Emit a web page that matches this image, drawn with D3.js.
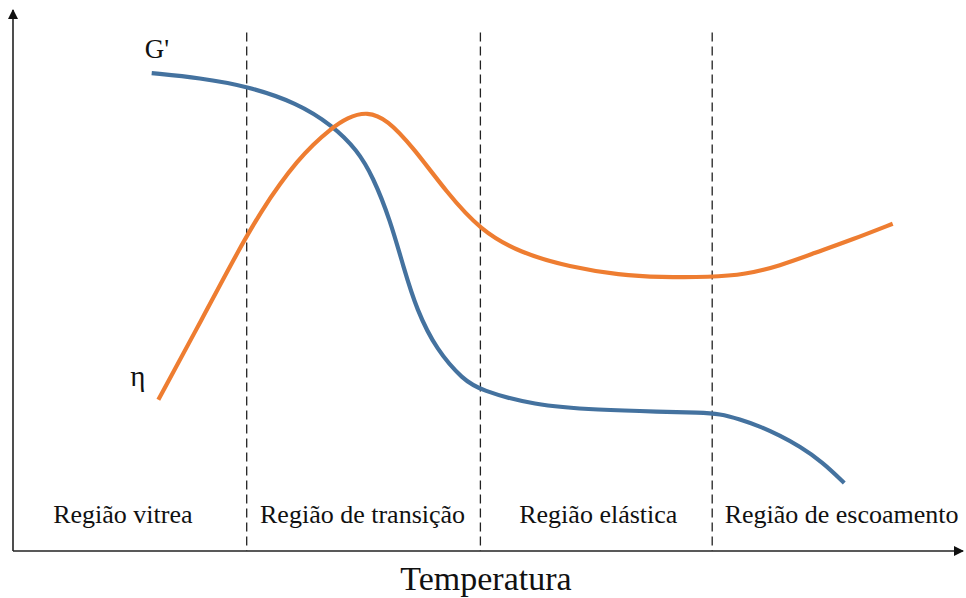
<!DOCTYPE html>
<html>
<head>
<meta charset="utf-8">
<script src="https://cdn.jsdelivr.net/npm/d3@7"></script>
<style>
  body { margin: 0; background: #fff; }
</style>
</head>
<body>
<div id="chart"></div>
<script>
// curve values, arbitrary units (temperature 0-100, property 0-100)
var gTemp = [14.6, 19.7, 24.6, 29.9, 33.7, 36.2, 37.9, 39.7, 41.1, 42.5, 44.6, 47.4, 49.2, 54.7, 61.7, 68.1, 72.3, 74.4, 76.5, 78.6, 80.7, 82.8, 85.2, 87.5]
var gValue = [88.5, 87.6, 86.1, 83.0, 78.7, 74.3, 69.3, 61.3, 52.6, 44.6, 37.2, 31.7, 29.8, 27.0, 26.1, 25.8, 25.65, 25.4, 24.4, 23.1, 21.4, 19.4, 16.5, 12.6]

var etaTemp = [15.3, 20.0, 23.6, 26.3, 28.1, 29.9, 31.6, 33.4, 35.2, 37.3, 39.4, 42.1, 45.7, 49.2, 53.4, 58.6, 63.9, 68.1, 73.4, 77.1, 80.7, 84.4, 88.4, 92.6]
var etaValue = [28.0, 43.3, 55.3, 63.4, 68.0, 72.1, 75.3, 78.1, 80.3, 81.4, 79.9, 74.8, 66.3, 59.4, 55.2, 52.6, 51.1, 50.7, 50.7, 51.2, 52.8, 55.2, 57.7, 60.6]

// region boundaries and names
var boundaries = [24.6, 49.2, 73.6]
var regionNames = ["Região vitrea", "Região de transição", "Região elástica", "Região de escoamento"]
var regionEdges = [0, 24.6, 49.2, 73.6, 100]
var labelShift = [-7, -1, 2, 4] // nudge so labels sit like the original

var serif = "Liberation Serif"

var screen = {width: 966, height: 598}
var margins = {top: 11, bottom: 47, left: 13, right: 3}

var svg = d3.select("#chart")
.append("svg")
.attr("width", screen.width)
.attr("height", screen.height)

var xScale = d3.scaleLinear()
.domain([0, 100])
.range([margins.left, screen.width - margins.right])

var yScale = d3.scaleLinear()
.domain([0, 100])
.range([screen.height - margins.bottom, margins.top])

// arrow heads
var defs = svg.append("defs")
defs.append("marker")
.attr("id", "arrow")
.attr("viewBox", "0 0 10 10")
.attr("refX", 9)
.attr("refY", 5)
.attr("markerWidth", 10)
.attr("markerHeight", 10)
.attr("markerUnits", "userSpaceOnUse")
.attr("orient", "auto")
.append("path")
.attr("d", "M0,0 L10,5 L0,10 Z")
.attr("fill", "#111")

// dashed region lines
svg.selectAll(".divider")
.data(boundaries)
.enter()
.append("line")
.attr("class", "divider")
.attr("x1", function(d) { return xScale(d) })
.attr("x2", function(d) { return xScale(d) })
.attr("y1", yScale(96))
.attr("y2", yScale(0))
.attr("stroke", "#222")
.attr("stroke-width", 1.3)
.attr("stroke-dasharray", "9,5")

// axes (plain arrows, no ticks)
svg.append("line")
.attr("x1", xScale(0))
.attr("y1", yScale(0))
.attr("x2", xScale(0))
.attr("y2", yScale(100) - 1)
.attr("stroke", "#222")
.attr("stroke-width", 1.6)
.attr("marker-end", "url(#arrow)")

svg.append("line")
.attr("x1", xScale(0))
.attr("y1", yScale(0))
.attr("x2", xScale(100))
.attr("y2", yScale(0))
.attr("stroke", "#222")
.attr("stroke-width", 1.6)
.attr("marker-end", "url(#arrow)")

// curves - basis spline smooths out reading noise
var line = d3.line()
.x(function(d) { return xScale(d[0]) })
.y(function(d) { return yScale(d[1]) })
.curve(d3.curveBasis)

var gPoints = d3.zip(gTemp, gValue)
var etaPoints = d3.zip(etaTemp, etaValue)

svg.append("path")
.datum(gPoints)
.attr("d", line)
.attr("fill", "none")
.attr("stroke", "#44729f")
.attr("stroke-width", 4.2)

svg.append("path")
.datum(etaPoints)
.attr("d", line)
.attr("fill", "none")
.attr("stroke", "#ee7d31")
.attr("stroke-width", 4.2)

// curve labels
svg.append("text")
.attr("x", xScale(gTemp[0]) - 7)
.attr("y", yScale(gValue[0]) - 15)
.attr("font-family", serif)
.attr("font-size", 27)
.attr("fill", "#111")
.text("G'")

svg.append("text")
.attr("x", xScale(etaTemp[0]) - 28)
.attr("y", yScale(etaValue[0]) - 14)
.attr("font-family", serif)
.attr("font-size", 29)
.attr("fill", "#111")
.text("η")

// region labels
svg.selectAll(".region")
.data(regionNames)
.enter()
.append("text")
.attr("class", "region")
.attr("x", function(d, i) { return xScale((regionEdges[i] + regionEdges[i + 1]) / 2) + labelShift[i] })
.attr("y", yScale(0) - 28)
.attr("text-anchor", "middle")
.attr("font-family", serif)
.attr("font-size", 26)
.attr("fill", "#111")
.text(function(d) { return d })

// axis title
svg.append("text")
.attr("x", 486)
.attr("y", screen.height - 8)
.attr("text-anchor", "middle")
.attr("font-family", serif)
.attr("font-size", 34)
.attr("fill", "#111")
.text("Temperatura")
</script>
</body>
</html>
